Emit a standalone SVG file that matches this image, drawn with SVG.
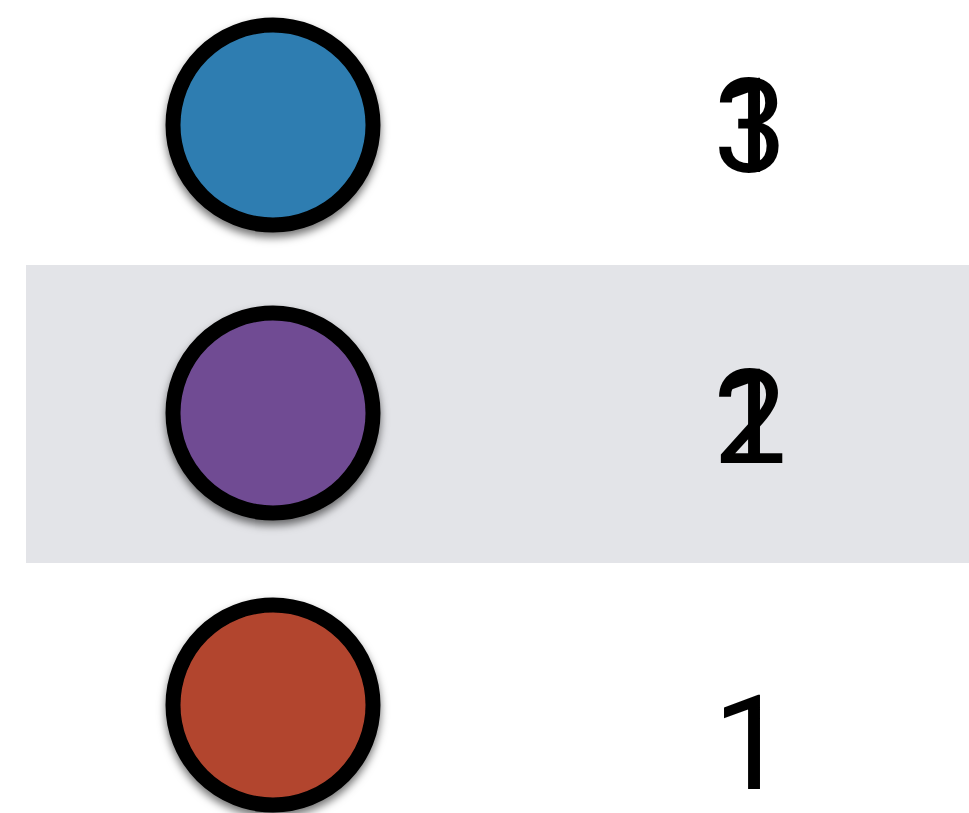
<svg xmlns="http://www.w3.org/2000/svg" width="969" height="813" viewBox="0 0 969 813">
<defs>
<filter id="sh" x="-20%" y="-20%" width="140%" height="150%">
<feDropShadow dx="0" dy="5" stdDeviation="4" flood-color="#000" flood-opacity="0.55"/>
</filter>
</defs>
<style>
.dot{stroke:#000;stroke-width:15;filter:url(#sh)}
.num{font-family:Roboto,"Liberation Sans",Arial,sans-serif;font-size:132px;text-anchor:middle;fill:#000}
</style>
<rect x="0" y="0" width="969" height="813" fill="#fff"/>
<rect id="band" x="26" y="265" width="943" height="298" fill="#e3e4e8"/>
<g id="node-top">
<circle class="dot" cx="273" cy="125" r="100" fill="#2d7db1"/>
<text class="num" x="750" y="172">3</text>
<text class="num" x="750" y="172">1</text>
</g>
<g id="node-middle">
<circle class="dot" cx="273" cy="413" r="100" fill="#6f4b93"/>
<text class="num" x="750" y="463">2</text>
<text class="num" x="750" y="463">1</text>
</g>
<g id="node-bottom">
<circle class="dot" cx="273" cy="705" r="100" fill="#b2452f"/>
<text class="num" x="750" y="789">1</text>
</g>
<g id="connectors"/>
</svg>
